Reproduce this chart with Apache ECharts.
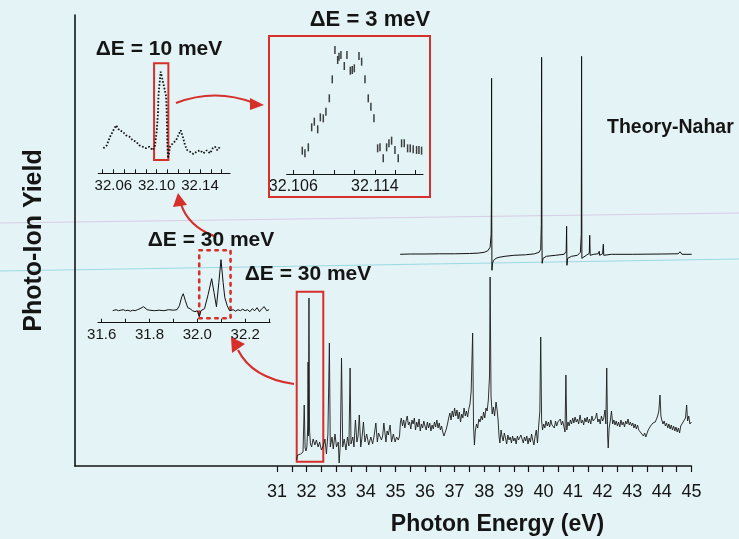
<!DOCTYPE html>
<html><head><meta charset="utf-8">
<script src="https://cdn.jsdelivr.net/npm/echarts@6/dist/echarts.min.js"></script>
<style>html,body{margin:0;padding:0;background:#e4f3f5}#c{width:739px;height:539px}</style>
</head><body><div id="c"></div>
<script>
// ---------- DATA ----------
// Main experimental photo-ion yield spectrum [photon energy eV, yield (arb.)]
const mainSpectrum = [
[31.66,6],[31.70,11],[31.75,13],[31.80,12],[31.85,11],[31.88,14],[31.92,61],[31.95,18],[31.98,15],[32.01,19],[32.04,40],[32.05,104],[32.06,30],[32.08,168],[32.10,36],[32.13,22],[32.17,19],[32.22,27],[32.28,21],[32.33,26],[32.39,19],[32.44,24],[32.50,16],[32.56,20],[32.62,27],[32.67,12],[32.72,32],
[32.77,123],[32.80,19],[32.86,29],[32.90,17],[32.96,32],[33.01,19],[33.07,24],[33.10,3],[33.14,22],[33.18,108],[33.22,19],[33.27,27],[33.33,16],[33.38,29],[33.43,20],[33.47,98],[33.50,22],[33.56,29],[33.60,19],[33.65,46],[33.70,24],[33.74,30],[33.78,51],[33.83,19],[33.87,28],[33.92,44],[33.97,24],[34.03,32],[34.10,21],[34.17,29],[34.23,22],[34.28,30],[34.34,43],[34.39,24],[34.43,33],[34.47,32],[34.53,26],[34.57,30],[34.61,43],[34.68,24],[34.72,35],[34.76,31],[34.82,41],[34.87,24],[34.93,32],[34.99,24],[35.04,29],[35.10,26],[35.14,30],
[35.17,44],[35.20,48],[35.24,40],[35.28,46],[35.32,38],[35.36,45],[35.40,50],[35.44,41],[35.48,44],[35.52,37],[35.56,46],[35.60,42],[35.64,48],[35.68,36],[35.72,44],[35.76,39],[35.80,47],[35.84,35],[35.88,42],[35.92,38],[35.96,45],[36.00,40],[36.04,36],[36.08,44],[36.12,38],[36.16,43],[36.20,35],[36.24,41],[36.28,37],[36.32,44],[36.36,39],[36.40,46],[36.44,38],[36.48,43],[36.52,36],[36.56,40],[36.60,34],[36.64,30],[36.68,29],[36.72,37],[36.76,42],[36.80,48],[36.84,53],[36.88,46],[36.92,55],[36.96,49],[37.00,58],[37.04,50],[37.08,56],[37.12,47],[37.16,54],[37.20,44],[37.24,52],[37.28,48],[37.32,58],[37.36,50],[37.40,55],[37.44,49],[37.48,57],[37.52,62],[37.56,75],[37.61,133],[37.64,40],[37.67,21],[37.70,35],[37.74,42],[37.78,38],[37.82,47],[37.86,44],[37.90,50],[37.94,46],[37.98,54],[38.02,48],[38.06,58],[38.10,55],[38.14,66],[38.18,90],[38.20,189],[38.23,70],[38.27,52],[38.31,59],[38.35,50],[38.40,64],[38.44,55],[38.47,46],[38.50,30],[38.53,23],[38.57,36],[38.60,30],[38.64,25],[38.68,33],[38.72,28],[38.76,22],[38.80,31],[38.84,26],[38.88,29],[38.92,23],[38.96,30],[39.00,25],[39.04,28],[39.08,22],[39.12,30],[39.16,26],[39.20,24],[39.24,31],[39.28,27],[39.32,23],[39.36,29],[39.40,25],[39.44,30],[39.48,22],[39.52,28],[39.56,24],[39.60,32],[39.64,26],[39.68,21],[39.72,30],[39.76,36],[39.80,23],[39.84,40],[39.88,55],[39.91,129],[39.94,45],[39.97,36],
[40.01,42],[40.05,38],[40.09,45],[40.13,40],[40.17,44],[40.21,39],[40.25,46],[40.29,41],[40.33,43],[40.37,38],[40.41,45],[40.45,40],[40.49,44],[40.53,42],[40.57,47],[40.61,41],[40.65,45],[40.69,40],[40.73,34],[40.76,91],[40.79,36],[40.83,44],[40.87,40],[40.91,46],[40.95,42],[40.99,48],[41.03,43],[41.07,49],[41.11,44],[41.15,47],[41.19,42],[41.24,51],[41.28,43],[41.32,46],[41.36,41],[41.40,48],[41.44,44],[41.48,49],[41.52,43],[41.56,47],[41.60,42],[41.64,50],[41.68,45],[41.72,43],[41.76,48],[41.80,53],[41.84,44],[41.88,47],[41.92,42],[41.96,50],[42.00,45],[42.04,48],[42.08,56],[42.11,42],[42.14,98],[42.17,30],[42.19,18],[42.22,38],[42.26,45],[42.30,55],[42.34,42],[42.38,46],[42.42,41],[42.46,45],[42.50,40],[42.54,44],[42.58,39],[42.62,46],[42.66,41],[42.70,44],[42.74,39],[42.78,45],[42.82,42],[42.86,47],[42.90,41],[42.94,44],[42.98,40],[43.02,43],[43.06,38],[43.10,42],[43.14,37],[43.18,41],[43.22,36],[43.26,38],[43.30,33],[43.34,35],[43.38,30],[43.42,33],[43.46,29],[43.50,31],[43.54,36],[43.58,34],[43.62,40],[43.66,38],[43.70,43],[43.74,41],[43.78,44],[43.82,46],[43.86,50],[43.90,55],[43.94,71],[43.97,50],[44.00,46],[44.04,42],[44.08,45],[44.12,40],[44.16,43],[44.20,38],[44.24,42],[44.28,37],[44.32,41],[44.36,36],[44.40,40],[44.44,35],[44.48,39],[44.52,34],[44.56,38],[44.60,33],[44.64,40],[44.68,38],[44.72,44],[44.76,42],[44.80,48],[44.84,61],[44.87,45],[44.91,50],[44.95,42],[45.00,44]
];
// Theory (Nahar) spectrum [eV, offset yield]
const theorySpectrum = [
[35.16,0],[35.5,0.3],[36,0.3],[36.5,0.5],[37,0.5],[37.5,0.8],[37.8,1.2],[38.0,2],[38.12,3.5],[38.2,7],[38.235,20],[38.245,60],[38.25,176],[38.255,40],[38.262,-16],[38.28,-9],[38.32,-6],[38.4,-4],[38.5,-3],[38.7,-2],[39.0,-1],[39.4,-0.5],[39.7,0.5],[39.85,2],[39.91,5],[39.93,30],[39.94,197],[39.95,20],[39.958,-9],[39.99,-4],[40.1,-2],[40.4,-1],[40.7,0],[40.77,3],[40.785,28],[40.795,-11],[40.82,-4],[40.95,-2],[41.15,-1],[41.25,2],[41.28,20],[41.29,198],[41.30,-4],[41.33,-3],[41.45,-1],[41.55,1],[41.565,19],[41.58,-1],[41.7,0],[41.85,0.5],[41.885,3],[41.9,-1],[42.0,0.5],[42.025,10],[42.04,-1],[42.3,0],[43,0],[44,0.3],[44.55,0.5],[44.62,2.5],[44.68,0],[45.01,0]
];
// Inset dE = 30 meV
const inset30 = [
[31.646,12],[31.66,13],[31.67,12],[31.68,12.5],[31.69,13],[31.70,12],[31.71,12.5],[31.72,11.5],[31.73,12.5],[31.74,12],[31.75,13],[31.76,14],[31.775,16],[31.79,13],[31.80,12.5],[31.82,12],[31.84,12.5],[31.86,12],[31.88,13],[31.90,12.5],[31.915,13],[31.925,17],[31.935,26],[31.941,29],[31.95,22],[31.96,15],[31.97,14],[31.98,12],[31.99,11],[32.00,12],[32.008,6],[32.015,12],[32.03,14],[32.045,28],[32.06,44],[32.07,30],[32.08,16],[32.09,40],[32.099,63],[32.108,40],[32.115,25],[32.125,17],[32.135,12],[32.15,13],[32.16,11.5],[32.17,13],[32.18,12],[32.19,13.5],[32.20,12],[32.21,13],[32.22,11],[32.23,14],[32.24,12],[32.25,15],[32.26,11],[32.27,14],[32.28,16],[32.29,12],[32.30,13]
];
// Inset dE = 10 meV
const inset10 = [
[32.0508,25],[32.0539,28],[32.057,36.6],[32.06,43],[32.0625,48],[32.0655,43],[32.0687,41.6],[32.0717,38],[32.0748,36.6],[32.0779,33],[32.081,31.6],[32.084,28],[32.0871,26.6],[32.0902,25],[32.0932,26.6],[32.0964,23],[32.0985,28],[32.1001,43],[32.1012,60],[32.1016,77],[32.1031,95],[32.1037,101.6],[32.1045,98],[32.1087,77],[32.1093,60],[32.1096,43],[32.1099,28],[32.1105,15],[32.1124,26.6],[32.1149,30],[32.1179,33],[32.12,38],[32.1222,43],[32.1241,36.6],[32.1262,28],[32.1283,23],[32.1308,21.6],[32.1339,19.3],[32.137,21.6],[32.14,23],[32.1431,20],[32.1462,23],[32.1493,20],[32.1518,25],[32.1539,26.6],[32.156,23],[32.1585,26.6]
];
// Inset dE = 3 meV (points with error bars)
const inset3 = [
[32.10688,70],[32.10714,62],[32.10747,80],[32.10780,140],[32.10806,157],[32.10839,134],[32.10865,170],[32.10894,167],[32.10920,187],[32.10953,227],[32.10982,284],[32.11008,372],[32.11035,342],[32.11048,352],[32.11067,357],[32.11100,324],[32.11126,357],[32.11159,310],[32.11178,312],[32.11198,317],[32.11244,354],[32.11270,337],[32.11303,284],[32.11335,227],[32.11361,202],[32.11391,167],[32.11427,77],[32.11450,80],[32.11482,47],[32.11515,80],[32.11538,92],[32.11564,100],[32.11597,72],[32.11629,47],[32.11662,92],[32.11688,92],[32.11721,77],[32.11747,77],[32.11776,74],[32.11809,72],[32.11832,72],[32.11858,70]
];
// Tick values / labels
const mainTicks = [31,31.5,32,32.5,33,33.5,34,34.5,35,35.5,36,36.5,37,37.5,38,38.5,39,39.5,40,40.5,41,41.5,42,42.5,43,43.5,44,44.5,45];
const mainLabels = [31,32,33,34,35,36,37,38,39,40,41,42,43,44,45];
const ticks30 = [31.6,31.7,31.8,31.9,32.0,32.1,32.2,32.3];
const labels30 = [31.6,31.8,32.0,32.2];
const ticks10 = [32.05,32.06,32.07,32.08,32.09,32.10,32.11,32.12,32.13,32.14,32.15,32.16];
const labels10 = [32.06,32.10,32.14];
const ticks3 = [32.106,32.108,32.110,32.112,32.114,32.116,32.118];
const labels3 = [32.106,32.114];

// ---------- CHART ----------
const RED = '#d6302b', INK = '#151515';
const narrow = "'Liberation Sans Narrow','Liberation Sans',Arial,sans-serif";
const boldF = "'Liberation Sans',Arial,sans-serif";
const chart = echarts.init(document.getElementById('c'), null, {renderer:'canvas'});

function insetX(grid, min, max, ticks, labels, dec, fs){
  return {type:'value', gridIndex:grid, min:min, max:max,
    axisLine:{lineStyle:{color:INK,width:1.2}},
    axisTick:{inside:true,length:4,customValues:ticks,lineStyle:{color:INK,width:1}},
    axisLabel:{customValues:labels,formatter:v=>v.toFixed(dec),color:INK,fontSize:fs,fontFamily:narrow,margin:5},
    splitLine:{show:false}};
}
function hiddenY(grid,min,max){return {type:'value',gridIndex:grid,min:min,max:max,show:false,splitLine:{show:false}};}

function arrowHead(tip, b1, b2){
  return {type:'polygon', shape:{points:[tip,b1,b2]}, style:{fill:RED}, z:50};
}
function curve(x1,y1,cx,cy,x2,y2){
  return {type:'bezierCurve', shape:{x1:x1,y1:y1,cpx1:cx,cpy1:cy,x2:x2,y2:y2}, style:{stroke:RED,lineWidth:2.2,fill:null}, z:50};
}
function label(txt,x,y,size,align){
  return {type:'text', x:x, y:y, z:60, style:{text:txt, fill:INK, font:'bold '+size+'px '+boldF, align:align||'center', verticalAlign:'middle'}};
}

const option = {
  animation:false,
  backgroundColor:'#e4f3f5',
  grid:[
    {left:75, top:15, width:616.4, height:451},
    {left:75, top:54.3, width:616.4, height:220},
    {left:98, top:250, width:172, height:72.7},
    {left:98.3, top:60, width:131.7, height:113.3},
    {left:286.7, top:36, width:136.3, height:138}
  ],
  xAxis:[
    {type:'value', gridIndex:0, min:24.176, max:45,
     axisLine:{lineStyle:{color:INK,width:1.6}},
     axisTick:{length:6,customValues:mainTicks,lineStyle:{color:INK,width:1.2}},
     axisLabel:{customValues:mainLabels,formatter:v=>String(Math.round(v)),color:INK,fontSize:18,fontFamily:narrow,margin:17},
     splitLine:{show:false}},
    {type:'value', gridIndex:1, min:24.176, max:45, show:false, splitLine:{show:false}},
    insetX(2, 31.5845, 32.304, ticks30, labels30, 1, 15),
    insetX(3, 32.0461, 32.1677, ticks10, labels10, 2, 15),
    insetX(4, 32.10535, 32.11872, ticks3, labels3, 3, 16)
  ],
  yAxis:[
    {type:'value', gridIndex:0, min:0, max:451,
     axisLine:{show:true,lineStyle:{color:INK,width:1.6}}, axisTick:{show:false}, axisLabel:{show:false}, splitLine:{show:false},
     name:'Photo-Ion Yield', nameLocation:'middle', nameGap:28,
     nameTextStyle:{color:INK,fontSize:25,fontWeight:'bold',fontFamily:boldF}},
    hiddenY(1,-20,200), hiddenY(2,0,72.7), hiddenY(3,0,113.3), hiddenY(4,0,414)
  ],
  series:[
    {type:'line', xAxisIndex:0, yAxisIndex:0, data:mainSpectrum, showSymbol:false, silent:true,
     lineStyle:{color:'#1c1c1c',width:0.9},
     markArea:{silent:true, itemStyle:{color:'rgba(0,0,0,0)',borderColor:RED,borderWidth:2},
       data:[[{coord:[31.666,4.3]},{coord:[32.564,174.3]}]]}},
    {type:'line', xAxisIndex:1, yAxisIndex:1, data:theorySpectrum, showSymbol:false, silent:true,
     lineStyle:{color:'#111',width:1}},
    {type:'line', xAxisIndex:2, yAxisIndex:2, data:inset30, showSymbol:false, silent:true,
     lineStyle:{color:'#111',width:1},
     markArea:{silent:true, itemStyle:{color:'rgba(0,0,0,0)',borderColor:RED,borderWidth:2.6,borderType:[2.5,5.5],borderCap:'round'},
       data:[[{coord:[32.008,4.4]},{coord:[32.139,72.4]}]]}},
    {type:'line', xAxisIndex:3, yAxisIndex:3, data:inset10, showSymbol:false, silent:true,
     lineStyle:{color:'#111',width:1.8,type:[1.6,1.8]},
     markArea:{silent:true, itemStyle:{color:'rgba(0,0,0,0)',borderColor:RED,borderWidth:2},
       data:[[{coord:[32.0976,13.3]},{coord:[32.1108,110]}]]}},
    {type:'scatter', xAxisIndex:4, yAxisIndex:4, data:inset3, symbol:'rect', symbolSize:[1.5,8], silent:true,
     itemStyle:{color:'#111'}}
  ],
  graphic:[
    {type:'line', shape:{x1:0,y1:271,x2:739,y2:259}, style:{stroke:'#9ad9e3',lineWidth:1}, z:-1, silent:true},
    {type:'line', shape:{x1:0,y1:223,x2:739,y2:213}, style:{stroke:'#d8cce6',lineWidth:1}, z:-1, silent:true},
    {type:'rect', shape:{x:269,y:36,width:161,height:161}, style:{stroke:RED,lineWidth:2,fill:null}, z:40},
    curve(176,103,215,88,254,103), arrowHead([264,105],[250,98],[250,110]),
    curve(214,236,188,226,181,204), arrowHead([178,193],[173,207],[187,205]),
    curve(294,384,252,378,238,350), arrowHead([231,337],[232,353],[245,344]),
    label('\u0394E = 10 meV',159,49,21),
    label('\u0394E = 3 meV',370,20,22),
    label('\u0394E = 30 meV',211,240,21),
    label('\u0394E = 30 meV',308,274,21),
    label('Theory-Nahar',607,128,19.5,'left'),
    label('Photon Energy (eV)',497.5,525,23)
  ]
};
chart.setOption(option);
</script>
</body></html>
